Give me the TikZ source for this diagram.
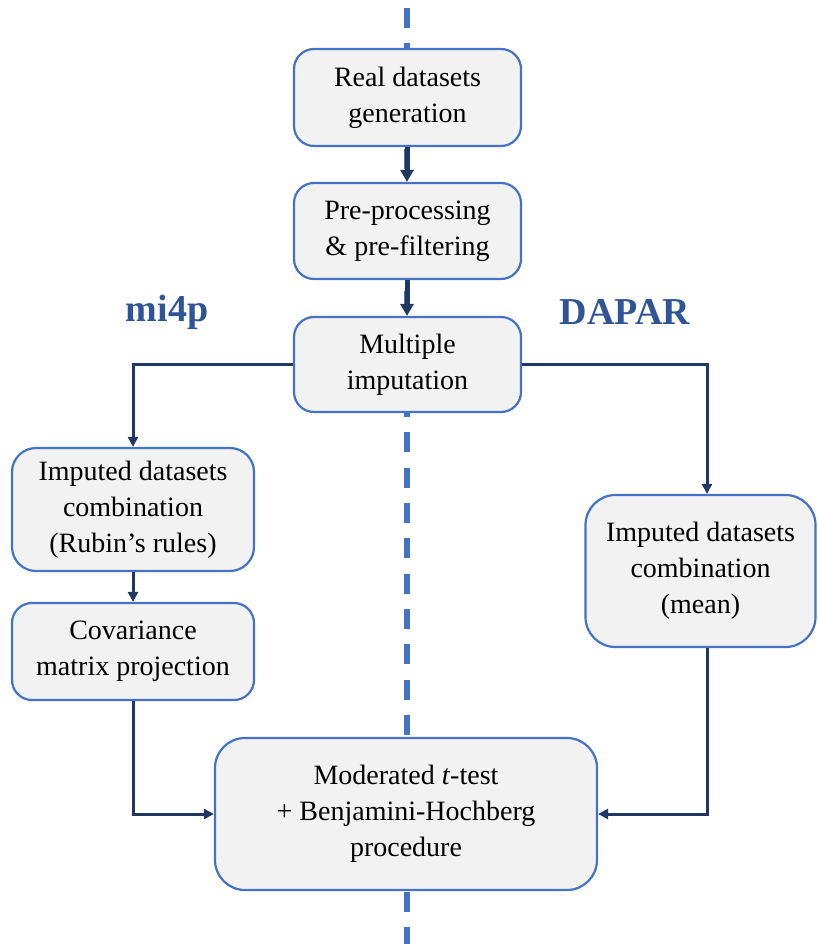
\documentclass[tikz,border=0pt]{standalone}
\usepackage{fontspec}
\setmainfont{Liberation Serif}
\usetikzlibrary{arrows.meta}
\definecolor{boxline}{HTML}{4472C4}
\definecolor{boxfill}{HTML}{F2F2F2}
\definecolor{arrowcol}{HTML}{203864}
\definecolor{labelcol}{HTML}{2F5597}
\begin{document}
\begin{tikzpicture}[x=1pt,y=-1pt,
  box/.style={draw=boxline,fill=boxfill,line width=2.2pt,rounded corners=20pt,
    align=center,inner sep=0pt,font=\fontsize{28}{36}\selectfont},
  bigbox/.style={box,rounded corners=30pt},
  conn/.style={draw=arrowcol,line width=3pt,-{Triangle[length=10pt,width=10pt]}},
  thickconn/.style={draw=arrowcol,line width=5pt,-{Triangle[length=12pt,width=13pt]}},
  sidelabel/.style={text=labelcol,font=\fontsize{38}{40}\selectfont\bfseries,inner sep=0pt}]
\useasboundingbox (0,0) rectangle (817,944);
% dashed centre line
\coordinate (dtop) at (407,8);
\coordinate (dbot) at (407,944);
\draw[boxline,line width=5.5pt,dash pattern=on 20pt off 15.35pt] (dtop) -- (dbot);
% boxes
\node[box,minimum width=227pt,minimum height=97pt] (real) at (407.5,97.5) {Real datasets\\generation};
\node[box,minimum width=227pt,minimum height=96pt] (pre) at (407.5,231) {Pre-processing\\\& pre-filtering};
\node[box,minimum width=227pt,minimum height=95pt] (mi) at (407.5,364.5) {Multiple\\imputation};
\node[box,rounded corners=24pt,minimum width=242pt,minimum height=123pt] (rubin) at (133,509.5) {Imputed datasets\\combination\\(Rubin’s rules)};
\node[box,minimum width=242pt,minimum height=97pt] (cov) at (133,651.5) {Covariance\\matrix projection};
\node[bigbox,minimum width=230pt,minimum height=152pt] (mean) at (700.5,571) {Imputed datasets\\combination\\(mean)};
\node[bigbox,minimum width=382pt,minimum height=152pt] (mod) at (406,814) {Moderated \textit{t}-test\\+ Benjamini-Hochberg\\procedure};
% labels
\node[sidelabel] (mi4p) at (167,312) {mi4p};
\node[sidelabel] (dapar) at (625,312) {DAPAR};
% connectors
\draw[thickconn] (real.south -| 407,0) -- (pre.north -| 407,0);
\draw[thickconn] (pre.south -| 407,0) -- (mi.north -| 407,0);
\draw[conn] (mi.west) -| (rubin.north);
\draw[conn] (mi.east) -| (mean.north -| 707,0);
\draw[conn] (rubin) -- (cov);
\draw[conn] (cov.south) |- (mod.west);
\draw[conn] (mean.south -| 707,0) |- (mod.east);
\end{tikzpicture}
\end{document}
